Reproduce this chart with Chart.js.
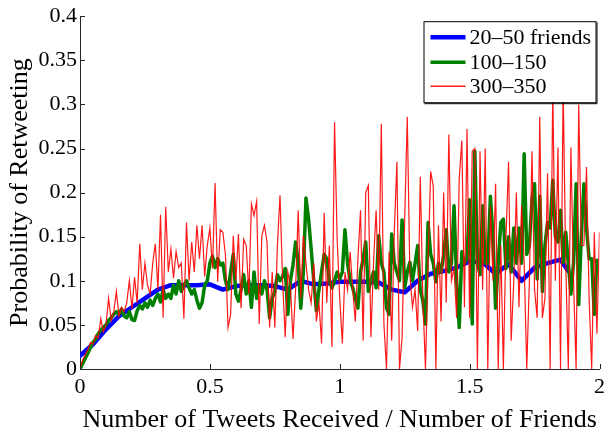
<!DOCTYPE html>
<html><head><meta charset="utf-8">
<script src="https://cdn.jsdelivr.net/npm/chart.js@4/dist/chart.umd.min.js"></script>
<style>html,body{margin:0;padding:0;background:#fff;}#wrap{width:610px;height:438px;}</style>
</head><body><div id="wrap"><canvas id="c" width="610" height="438"></canvas></div>
<script>
const seriesLabels = ['20\u201350 friends', '100\u2013150', '300\u2013350'];
const xTickValues = [0, 0.5, 1, 1.5, 2];
const xTickLabels = ['0', '0.5', '1', '1.5', '2'];
const yTickValues = [0, 0.05, 0.1, 0.15, 0.2, 0.25, 0.3, 0.35, 0.4];
const yTickLabels = ['0', '0.05', '0.1', '0.15', '0.2', '0.25', '0.3', '0.35', '0.4'];
const xTitle = 'Number of Tweets Received / Number of Friends';
const yTitle = 'Probability of Retweeting';

// 20-50 friends (smooth)
const blueX = [0,0.05,0.1,0.15,0.2,0.25,0.3,0.35,0.4,0.45,0.5,0.55,0.6,0.65,0.7,0.75,0.8,0.85,0.9,0.95,1.0,1.05,1.1,1.15,1.2,1.25,1.3,1.35,1.4,1.45,1.5,1.55,1.6,1.65,1.7,1.75,1.8,1.85,1.88];
const blueY = [0.015,0.028,0.045,0.06,0.07,0.08,0.09,0.095,0.095,0.095,0.096,0.09,0.094,0.095,0.095,0.094,0.09,0.1,0.096,0.097,0.099,0.099,0.099,0.098,0.09,0.087,0.1,0.108,0.111,0.115,0.122,0.121,0.108,0.119,0.1,0.115,0.12,0.124,0.111];

// 100-150 friends, sampled every 0.01 from 0 to 1.99
const greenY = [
0,0.006,0.012,0.018,0.024,0.03,0.034,0.04,0.044,0.047,
0.05,0.055,0.058,0.062,0.065,0.062,0.068,0.06,0.058,0.065,
0.056,0.055,0.066,0.072,0.068,0.075,0.07,0.078,0.072,0.08,
0.085,0.076,0.09,0.08,0.085,0.08,0.095,0.085,0.1,0.088,
0.095,0.1,0.092,0.085,0.09,0.078,0.069,0.075,0.095,0.1,
0.12,0.128,0.115,0.125,0.118,0.12,0.1,0.09,0.11,0.13,
0.085,0.077,0.09,0.107,0.085,0.1,0.07,0.11,0.08,0.095,
0.085,0.1,0.09,0.058,0.08,0.088,0.107,0.1,0.105,0.114,
0.062,0.1,0.118,0.144,0.121,0.069,0.11,0.194,0.17,0.136,
0.1,0.066,0.09,0.11,0.13,0.125,0.1,0.092,0.1,0.11,
0.102,0.11,0.158,0.12,0.1,0.092,0.08,0.069,0.11,0.125,
0.144,0.088,0.1,0.11,0.092,0.151,0.12,0.11,0.069,0.062,
0.153,0.12,0.11,0.1,0.169,0.092,0.11,0.121,0.1,0.12,
0.14,0.09,0.077,0.051,0.166,0.13,0.12,0.099,0.12,0.11,
0.129,0.158,0.11,0.12,0.185,0.1,0.047,0.133,0.12,0.125,
0.192,0.051,0.247,0.12,0.107,0.185,0.12,0.12,0.196,0.15,
0.069,0.12,0.166,0.17,0.114,0.15,0.11,0.16,0.12,0.16,
0.12,0.244,0.13,0.14,0.192,0.21,0.102,0.196,0.088,0.14,
0.166,0.16,0.214,0.15,0.144,0.18,0.121,0.155,0.12,0.085,
0.12,0.21,0.073,0.15,0.21,0.16,0.125,0.125,0.062,0.125
];

// 300-350 friends, sampled every 0.01 from 0 to 2.00
const redY = [
0,0.01,0.016,0.022,0.03,0.028,0.038,0.035,0.057,0.042,
0.05,0.08,0.055,0.065,0.088,0.06,0.07,0.065,0.075,0.1,
0.068,0.104,0.075,0.142,0.09,0.12,0.095,0.085,0.12,0.142,
0.09,0.175,0.058,0.184,0.11,0.136,0.103,0.133,0.115,0.12,
0.057,0.166,0.1,0.144,0.11,0.163,0.125,0.163,0.105,0.14,
0.16,0.114,0.211,0.099,0.158,0.155,0.129,0.047,0.062,0.151,
0.1,0.153,0.069,0.147,0.14,0.085,0.187,0.174,0.19,0.051,
0.151,0.163,0.144,0.047,0.11,0.047,0.14,0.197,0.1,0.036,
0.11,0.095,0.034,0.09,0.18,0.08,0.151,0.12,0.09,0.075,
0.12,0.054,0.075,0.029,0.177,0.075,0.14,0.025,0.28,0.147,
0.08,0.029,0.11,0.09,0.133,0.09,0.054,0.125,0.18,0.032,
0.2,0.208,0.036,0.12,0.18,0.09,0.278,0.051,0,0.133,
0.032,0.155,0.235,0,0.036,0.17,0.286,0.107,0.07,0.09,
0.043,0.218,0.08,0,0.12,0.224,0.207,0,0.163,0.054,
0.2,0.075,0.266,0.1,0.114,0.058,0.216,0.259,0.07,0.272,
0.058,0.247,0.25,0,0.247,0.09,0.25,0,0.185,0.1,
0.21,0,0.14,0,0.15,0.235,0.032,0.1,0.2,0.07,
0.185,0.12,0,0.1,0.247,0.09,0.058,0.286,0.058,0.08,
0.222,0,0.32,0.1,0.251,0,0.32,0.12,0,0.251,
0.1,0,0.3,0.14,0.14,0.229,0.08,0,0.155,0.04,
0.155
];

const STEP = 0.01;
const toPoints = (xs, ys) => ys.map((y, i) => ({x: xs[i], y}));
const gridPoints = ys => ys.map((y, i) => ({x: +(i * STEP).toFixed(2), y}));

const FONT = "'Liberation Serif', 'Times New Roman', serif";

const inwardTicks = {
  id: 'inwardTicks',
  afterDatasetsDraw(chart) {
    const {ctx, chartArea} = chart;
    const xs = chart.scales.x, ys = chart.scales.y;
    ctx.save();
    ctx.strokeStyle = '#262626';
    ctx.lineWidth = 1;
    ctx.beginPath();
    xTickValues.forEach(v => {
      const px = Math.round(xs.getPixelForValue(v)) + 0.5;
      ctx.moveTo(px, chartArea.bottom);
      ctx.lineTo(px, chartArea.bottom - 5);
    });
    yTickValues.forEach(v => {
      const py = Math.round(ys.getPixelForValue(v)) + 0.5;
      ctx.moveTo(chartArea.left, py);
      ctx.lineTo(chartArea.left + 5, py);
    });
    ctx.stroke();
    ctx.restore();
  }
};

const boxLegend = {
  id: 'boxLegend',
  afterDraw(chart) {
    const {ctx, chartArea} = chart;
    const w = 172, h = 81;
    const left = chartArea.right - 4 - w;
    const top = chartArea.top + 5;
    ctx.save();
    ctx.fillStyle = '#fff';
    ctx.fillRect(left, top, w, h);
    ctx.strokeStyle = '#000';
    ctx.lineWidth = 1;
    ctx.strokeRect(left + 0.5, top + 0.5, w, h);
    ctx.beginPath();
    ctx.moveTo(left + 1, top + h + 1.5); ctx.lineTo(left + w + 1.5, top + h + 1.5);
    ctx.lineTo(left + w + 1.5, top + 1);
    ctx.stroke();
    ctx.font = "22px " + FONT;
    ctx.textBaseline = 'middle';
    ctx.fillStyle = '#000';
    const rows = [16, 41, 65];
    chart.data.datasets.forEach((ds, i) => {
      const y = top + rows[i];
      ctx.beginPath();
      ctx.strokeStyle = ds.borderColor;
      ctx.lineWidth = Math.max(ds.borderWidth, 1.5);
      ctx.moveTo(left + 7, y);
      ctx.lineTo(left + 42, y);
      ctx.stroke();
      ctx.fillText(ds.label, left + 46, y + 1);
    });
    ctx.restore();
  }
};

new Chart(document.getElementById('c'), {
  type: 'line',
  data: {
    datasets: [
      {label: seriesLabels[0], data: toPoints(blueX, blueY), borderColor: 'rgb(0,0,255)', borderWidth: 4.5, pointRadius: 0, tension: 0, order: 2, borderJoinStyle: 'round', borderCapStyle: 'round'},
      {label: seriesLabels[1], data: gridPoints(greenY), borderColor: 'rgb(0,128,0)', borderWidth: 3.5, pointRadius: 0, tension: 0, order: 1, borderJoinStyle: 'round'},
      {label: seriesLabels[2], data: gridPoints(redY), borderColor: 'rgba(255,0,0,0.9)', borderWidth: 1.2, pointRadius: 0, tension: 0, order: 0}
    ]
  },
  options: {
    responsive: false,
    animation: false,
    devicePixelRatio: 1,
    layout: {padding: {left: 0, top: 10, right: 10, bottom: 0}},
    plugins: {legend: {display: false}, tooltip: {enabled: false}},
    scales: {
      x: {
        type: 'linear', min: 0, max: 2,
        afterBuildTicks: s => { s.ticks = xTickValues.map(v => ({value: v})); },
        afterFit: s => { s.height = 69; },
        ticks: {font: {family: FONT, size: 22}, color: '#000', padding: 5, maxRotation: 0, autoSkip: false,
          callback: (v) => xTickLabels[xTickValues.indexOf(v)] ?? ''},
        grid: {display: true, drawOnChartArea: false, drawTicks: false},
        border: {display: true, color: '#262626', width: 1},
        title: {display: true, text: xTitle, font: {family: FONT, size: 26}, color: '#000', padding: {top: 0, bottom: 2}}
      },
      y: {
        type: 'linear', min: 0, max: 0.4,
        afterBuildTicks: s => { s.ticks = yTickValues.map(v => ({value: v})); },
        afterFit: s => { s.width = 80; },
        ticks: {font: {family: FONT, size: 22}, color: '#000', padding: 3, autoSkip: false,
          callback: (v) => { const i = yTickValues.findIndex(t => Math.abs(t - v) < 1e-9); return i >= 0 ? yTickLabels[i] : ''; }},
        grid: {display: true, drawOnChartArea: false, drawTicks: false},
        border: {display: true, color: '#262626', width: 1},
        title: {display: true, text: yTitle, font: {family: FONT, size: 26}, color: '#000', padding: {top: 5, bottom: 0}}
      }
    }
  },
  plugins: [inwardTicks, boxLegend]
});
</script></body></html>
